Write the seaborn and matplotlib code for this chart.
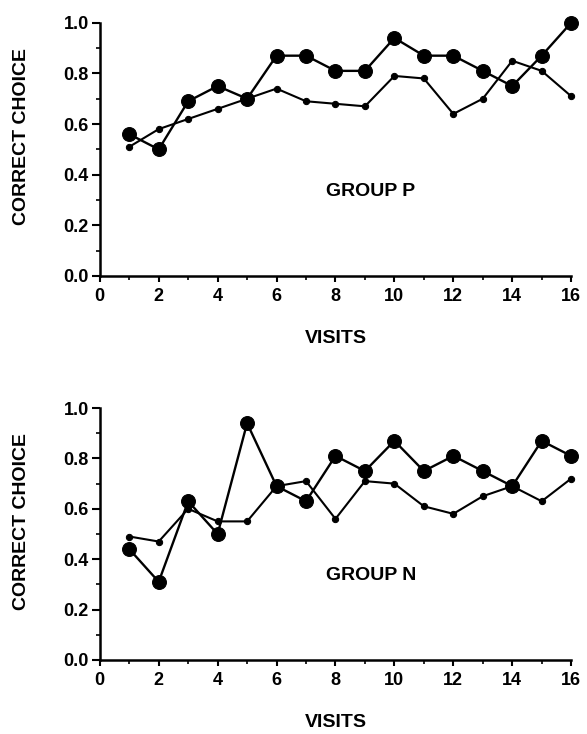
import numpy as np
import pandas as pd
import matplotlib.pyplot as plt
import seaborn as sns
from matplotlib.ticker import MultipleLocator

visits = list(range(1, 17))

# group P
p_big = [0.56, 0.50, 0.69, 0.75, 0.70, 0.87, 0.87, 0.81, 0.81, 0.94, 0.87, 0.87, 0.81, 0.75, 0.87, 1.00]
p_small = [0.51, 0.58, 0.62, 0.66, 0.70, 0.74, 0.69, 0.68, 0.67, 0.79, 0.78, 0.64, 0.70, 0.85, 0.81, 0.71]
# group N
n_big = [0.44, 0.31, 0.63, 0.50, 0.94, 0.69, 0.63, 0.81, 0.75, 0.87, 0.75, 0.81, 0.75, 0.69, 0.87, 0.81]
n_small = [0.49, 0.47, 0.60, 0.55, 0.55, 0.69, 0.71, 0.56, 0.71, 0.70, 0.61, 0.58, 0.65, 0.69, 0.63, 0.72]

panels = [("GROUP P", p_big, p_small), ("GROUP N", n_big, n_small)]

sns.set_style("ticks")
plt.rcParams['font.family'] = ['Liberation Sans', 'DejaVu Sans']
plt.rcParams['font.weight'] = 'bold'
for k in ['text.color', 'axes.labelcolor', 'xtick.color', 'ytick.color', 'axes.edgecolor']:
    plt.rcParams[k] = 'black'

fig = plt.figure(figsize=(5.87, 7.34), dpi=100)
boxes = [[0.170, 0.624, 0.803, 0.345], [0.170, 0.101, 0.803, 0.343]]

for box, (name, big, small) in zip(boxes, panels):
    ax = fig.add_axes(box)
    df = pd.DataFrame({"visit": visits, "big": big, "small": small})
    sns.lineplot(data=df, x="visit", y="small", ax=ax, color="black",
                 linewidth=1.5, marker="o", markersize=4.5,
                 markeredgecolor="black", clip_on=False)
    sns.lineplot(data=df, x="visit", y="big", ax=ax, color="black",
                 linewidth=1.7, marker="o", markersize=10,
                 markeredgecolor="black", clip_on=False)
    ax.set_xlim(0, 16)
    ax.set_ylim(0, 1.0)
    ax.set_xticks(range(0, 17, 2))
    ax.set_yticks(np.arange(0, 1.01, 0.2))
    ax.set_yticklabels(["%.1f" % v for v in np.arange(0, 1.01, 0.2)])
    ax.xaxis.set_minor_locator(MultipleLocator(1))
    ax.yaxis.set_minor_locator(MultipleLocator(0.1))
    for s in ["top", "right"]:
        ax.spines[s].set_visible(False)
    for s in ["left", "bottom"]:
        ax.spines[s].set_linewidth(1.8)
    ax.tick_params(which="major", length=6, width=1.5, labelsize=13, pad=2)
    ax.tick_params(axis="x", which="major", length=4, pad=5)
    ax.tick_params(which="minor", length=3, width=1.2)
    ax.set_xlabel("VISITS", fontsize=14, fontweight="bold")
    ax.set_ylabel("CORRECT CHOICE", fontsize=14, fontweight="bold")
    ax.xaxis.set_label_coords(0.5, -0.215)
    ax.yaxis.set_label_coords(-0.148, 0.55)
    ax.text(9.2, 0.335, name, fontsize=14, fontweight="bold",
            ha="center", va="center")

fig.savefig("out.png", dpi=100, facecolor="white")
